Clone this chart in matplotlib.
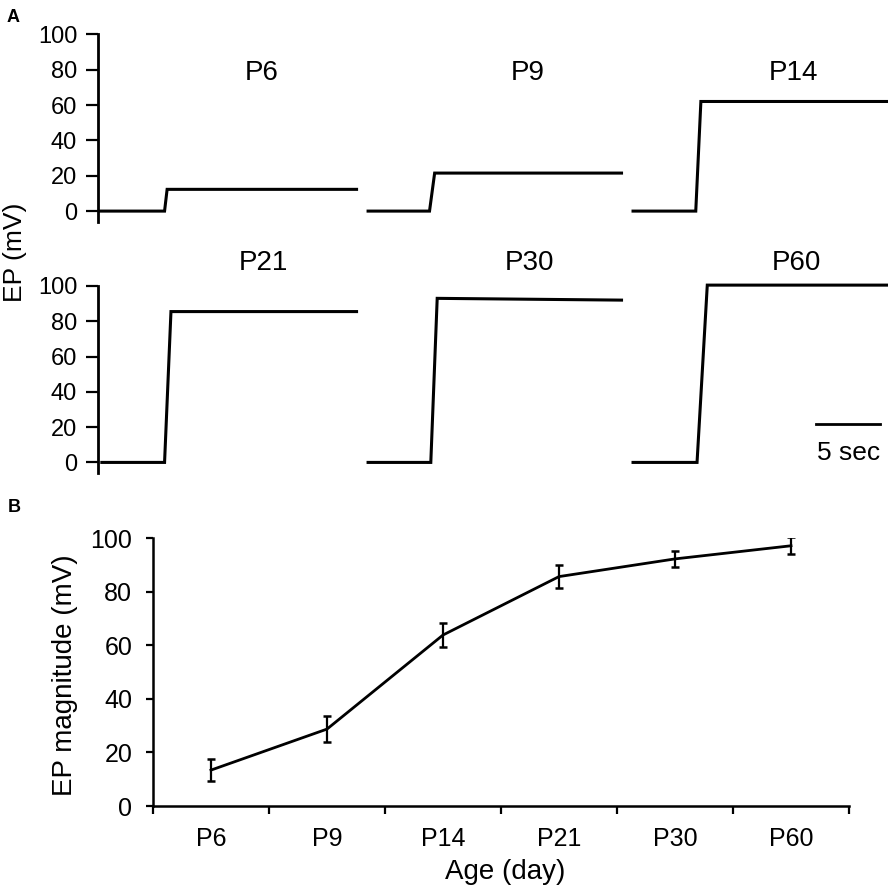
import matplotlib
matplotlib.use("Agg")
import matplotlib.pyplot as plt
import numpy as np

plt.rcParams['font.family'] = ['Liberation Sans', 'DejaVu Sans']

# ---------------- data: panel A traces ----------------
trace_names = ['P6', 'P9', 'P14', 'P21', 'P30', 'P60']
trace_row = [0, 0, 0, 1, 1, 1]
trace_start = [0.2, 21.1, 41.8, 0.3, 21.1, 41.8]      # s
step_on = [5.2, 25.9, 46.7, 5.2, 26.0, 46.8]          # s
step_top = [5.4, 26.3, 47.1, 5.7, 26.5, 47.6]         # s
trace_end = [20.2, 40.9, 61.6, 20.2, 40.9, 61.6]      # s
baseline = [0, 0, 0, 0, 0, 0]                          # mV
plateau_start = [12.3, 21.5, 62.0, 85.5, 93.0, 100.5]  # mV
plateau_end = [12.3, 21.5, 62.0, 85.5, 92.0, 100.5]    # mV
a_yticks = [0, 20, 40, 60, 80, 100]
scalebar_sec = 5

# ---------------- data: panel B ----------------
ages = ['P6', 'P9', 'P14', 'P21', 'P30', 'P60']
ep_mean = [13.4, 28.7, 63.8, 85.6, 92.2, 97.1]
ep_err = [4.0, 4.8, 4.6, 4.3, 2.9, 3.2]
b_yticks = [0, 20, 40, 60, 80, 100]

W, H = 893, 890
fig = plt.figure(figsize=(W / 100, H / 100), dpi=100)


def px_axes(left, top, right, bottom):
    return fig.add_axes([left / W, 1 - bottom / H, (right - left) / W, (bottom - top) / H])


xmax = (890 - 98) / 12.8
rows = [px_axes(98, 34.3, 890, 221.7), px_axes(98, 286, 890, 473)]
title_y = [78, 113]
for ax in rows:
    ax.set_xlim(0, xmax)
    ax.set_ylim(-6, 100)
    for s in ['top', 'right', 'bottom']:
        ax.spines[s].set_visible(False)
    ax.spines['left'].set_linewidth(2.0)
    ax.set_xticks([])
    ax.set_yticks(a_yticks)
    ax.tick_params(axis='y', direction='out', length=9, width=1.6, pad=6, labelsize=17)
    ax.patch.set_alpha(0)

for i, name in enumerate(trace_names):
    ax = rows[trace_row[i]]
    xs = [trace_start[i], step_on[i], step_top[i], trace_end[i]]
    ys = [baseline[i], baseline[i], plateau_start[i], plateau_end[i]]
    ax.plot(xs, ys, color='black', lw=2.2, solid_joinstyle='miter', clip_on=False)
    tx = (step_top[i] + trace_end[i]) / 2
    ax.text(tx, title_y[trace_row[i]], name, ha='center', va='center', fontsize=20, clip_on=False)

# scale bar
axr = rows[1]
sb_end = 61.1
axr.plot([sb_end - scalebar_sec, sb_end], [22, 22], color='black', lw=2.0)
axr.text(sb_end - scalebar_sec / 2, 5.5, f'{scalebar_sec} sec', ha='center', va='center', fontsize=19)

fig.text(22 / W, 1 - 252 / H, 'EP (mV)', rotation=90, rotation_mode='anchor',
         ha='center', va='baseline', fontsize=19)
fig.text(7 / W, 1 - 22 / H, 'A', fontsize=13, fontweight='bold', ha='left', va='baseline')
fig.text(8 / W, 1 - 512 / H, 'B', fontsize=13, fontweight='bold', ha='left', va='baseline')

# ---------------- panel B ----------------
axb = px_axes(153, 538, 849, 806)
xpos = np.arange(len(ages)) + 0.5
axb.errorbar(xpos, ep_mean, yerr=ep_err, color='black', lw=2.0, elinewidth=1.6,
             capsize=3, capthick=1.8)
axb.set_xlim(0, len(ages))
axb.set_ylim(0, 100)
for s in ['top', 'right']:
    axb.spines[s].set_visible(False)
for s in ['left', 'bottom']:
    axb.spines[s].set_linewidth(1.8)
axb.set_yticks(b_yticks)
axb.tick_params(axis='y', direction='out', length=5, width=1.6, pad=10, labelsize=18)
axb.set_xticks(np.arange(len(ages) + 1))
axb.set_xticklabels([])
axb.tick_params(axis='x', which='major', direction='out', length=6, width=1.6)
axb.set_xticks(xpos, minor=True)
axb.set_xticklabels(ages, minor=True)
axb.tick_params(axis='x', which='minor', length=0, pad=15, labelsize=18)

fig.text(72 / W, 1 - 675 / H, 'EP magnitude (mV)', rotation=90, rotation_mode='anchor',
         ha='center', va='baseline', fontsize=20)
fig.text(505 / W, 1 - 879 / H, 'Age (day)', ha='center', va='baseline', fontsize=20)

fig.savefig('out.png', dpi=100)
